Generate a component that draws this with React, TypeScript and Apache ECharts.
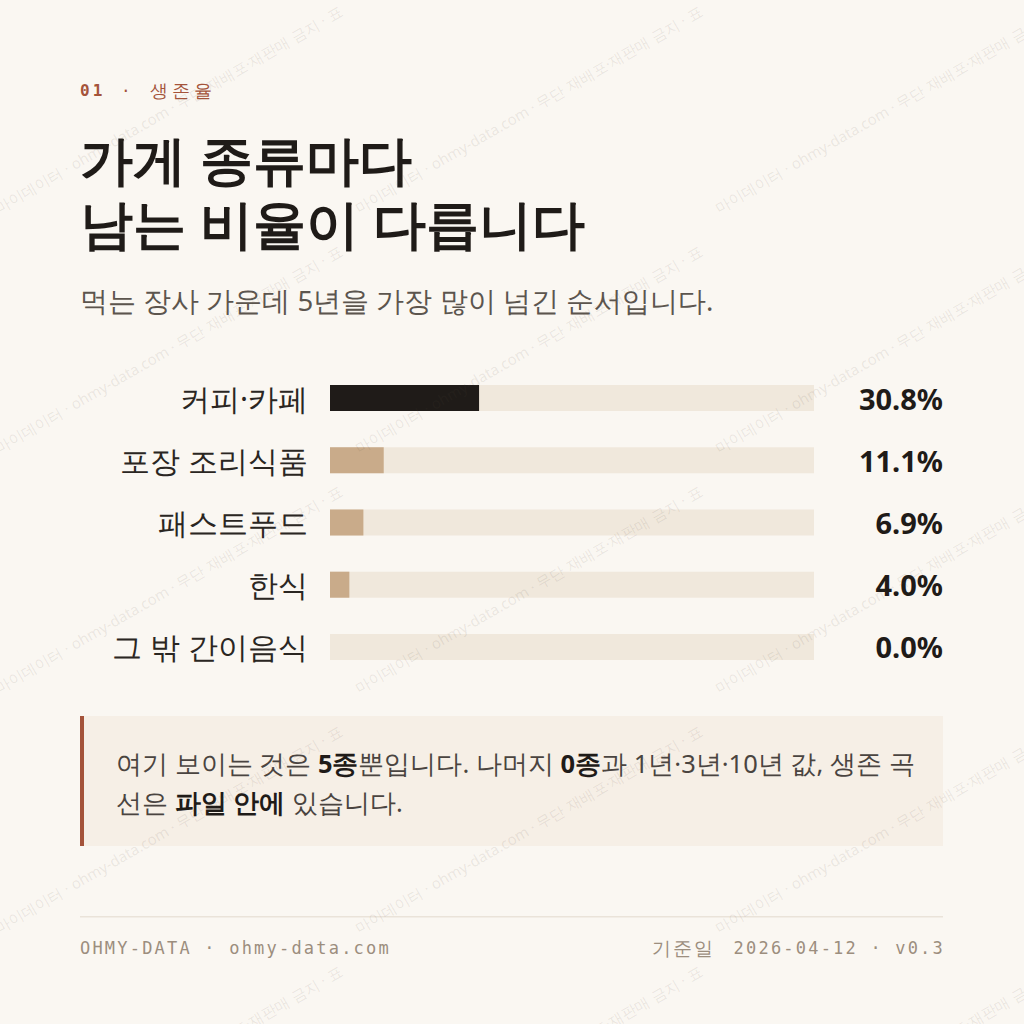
import { useEffect, useRef } from "react";
import * as echarts from "echarts";

const categories = ["커피·카페", "포장 조리식품", "패스트푸드", "한식", "그 밖 간이음식"];
const survival5y = [30.8, 11.1, 6.9, 4.0, 0.0];
const valueLabels = survival5y.map((v) => v.toFixed(1) + "%");

const kicker = ["01", "·", "생존율"];
const titleLines = ["가게 종류마다", "남는 비율이 다릅니다"];
const subtitle = "먹는 장사 가운데 5년을 가장 많이 넘긴 순서입니다.";
// [text, bold]
const noteLine1: [string, boolean][] = [
  ["여기 보이는 것은 ", false],
  ["5종", true],
  ["뿐입니다. 나머지 ", false],
  ["0종", true],
  ["과 1년·3년·10년 값, 생존 곡", false],
];
const noteLine2: [string, boolean][] = [
  ["선은 ", false],
  ["파일 안에", true],
  [" 있습니다.", false],
];
const footerLeft = "OHMY-DATA · ohmy-data.com";
const footerDateLabel = "기준일";
const footerDate = "2026-04-12 · v0.3";
const watermark = "마이데이터 · ohmy-data.com · 무단 재배포·재판매 금지 · 표";

const BG = "#FAF7F2";
const INK = "#1F1B18";
const RUST = "#A4533A";
const TAN = "#C9AB8A";
const TRACK = "#F0E8DC";
const FOOT = "#9C8E7E";
const SANS = "'Noto Sans', sans-serif";
const mono = (ls: number) =>
  `'DejaVu Sans Mono', monospace;letter-spacing:${ls}px`;
const spaced = (ls: number) => `'Noto Sans', sans-serif;letter-spacing:${ls}px`;

function richLine(parts: [string, boolean][]) {
  return parts.map(([t, b]) => `{${b ? "b" : "r"}|${t}}`).join("");
}

export default function App() {
  const chartRef = useRef<HTMLDivElement>(null);

  useEffect(() => {
    if (!chartRef.current) return;
    document.body.style.margin = "0";
    document.body.style.background = BG;
    const chart = echarts.init(chartRef.current, null, { renderer: "svg" });

    const marks: any[] = [];
    for (let row = 0; row < 5; row++) {
      for (let col = 0; col < 3; col++) {
        marks.push({
          type: "text",
          x: col * 360,
          y: 215 + row * 240,
          rotation: Math.PI / 6,
          z: 100,
          silent: true,
          style: {
            text: watermark,
            fontSize: 15,
            fontFamily: SANS,
            fill: "rgba(90,78,66,0.11)",
            align: "left",
            verticalAlign: "bottom",
          },
        });
      }
    }

    const option: echarts.EChartsOption = {
      animation: false,
      backgroundColor: BG,
      grid: { left: 330, right: 210, top: 367, height: 311 },
      xAxis: { type: "value", min: 0, max: 100, show: false },
      yAxis: [
        {
          type: "category",
          data: categories,
          inverse: true,
          axisLine: { show: false },
          axisTick: { show: false },
          splitLine: { show: false },
          axisLabel: {
            fontSize: 30,
            fontFamily: SANS,
            color: "#2A2622",
            margin: 22,
          },
        },
        {
          type: "category",
          data: valueLabels,
          inverse: true,
          position: "right",
          axisLine: { show: false },
          axisTick: { show: false },
          splitLine: { show: false },
          axisLabel: {
            fontSize: 29,
            fontWeight: "bold",
            fontFamily: SANS,
            color: INK,
            align: "right",
            margin: 129,
          },
        },
      ],
      series: [
        {
          type: "bar",
          barWidth: 26,
          silent: true,
          showBackground: true,
          backgroundStyle: { color: TRACK },
          data: survival5y.map((v, i) => ({
            value: v,
            itemStyle: { color: i === 0 ? INK : TAN },
          })),
        },
      ],
      graphic: [
        {
          type: "text",
          x: 80,
          y: 90,
          style: {
            text: kicker[0],
            fontSize: 16,
            fontWeight: "bold",
            fontFamily: mono(3),
            fill: RUST,
            verticalAlign: "middle",
          },
        },
        {
          type: "text",
          x: 121,
          y: 90,
          style: {
            text: kicker[1],
            fontSize: 16,
            fontFamily: mono(0),
            fill: RUST,
            verticalAlign: "middle",
          },
        },
        {
          type: "text",
          x: 150,
          y: 90,
          style: {
            text: kicker[2],
            fontSize: 18,
            fontFamily: spaced(4),
            fill: RUST,
            verticalAlign: "middle",
          },
        },
        {
          type: "text",
          x: 80,
          y: 126,
          style: {
            text: titleLines.join("\n"),
            fontSize: 53,
            fontWeight: "bold",
            fontFamily: SANS,
            lineHeight: 64,
            fill: INK,
            verticalAlign: "top",
          },
        },
        {
          type: "text",
          x: 80,
          y: 300,
          style: {
            text: subtitle,
            fontSize: 27.6,
            fontFamily: SANS,
            fill: "#5C554E",
            verticalAlign: "middle",
          },
        },
        {
          type: "rect",
          shape: { x: 80, y: 716, width: 863, height: 130 },
          style: { fill: "#F6EFE6" },
        },
        {
          type: "rect",
          shape: { x: 80, y: 716, width: 4, height: 130 },
          style: { fill: RUST },
        },
        {
          type: "text",
          x: 116,
          y: 743,
          style: {
            text: richLine(noteLine1) + "\n" + richLine(noteLine2),
            verticalAlign: "top",
            rich: {
              r: { fontSize: 25.5, fontFamily: SANS, fill: "#4A4440", lineHeight: 39 },
              b: { fontSize: 25.5, fontWeight: "bold", fontFamily: SANS, fill: INK, lineHeight: 39 },
            },
          },
        },
        {
          type: "rect",
          shape: { x: 80, y: 916, width: 863, height: 1.5 },
          style: { fill: "#EAE3D9" },
        },
        {
          type: "text",
          x: 80,
          y: 948,
          style: {
            text: footerLeft,
            fontSize: 17,
            fontFamily: mono(2.2),
            fill: FOOT,
            verticalAlign: "middle",
          },
        },
        {
          type: "text",
          x: 652,
          y: 948,
          style: {
            text: footerDateLabel,
            fontSize: 19,
            fontFamily: spaced(2),
            fill: FOOT,
            verticalAlign: "middle",
          },
        },
        {
          type: "text",
          x: 945,
          y: 948,
          style: {
            text: footerDate,
            fontSize: 17,
            fontFamily: mono(2.2),
            fill: FOOT,
            align: "right",
            verticalAlign: "middle",
          },
        },
        ...marks,
      ],
    };

    chart.setOption(option);
    return () => chart.dispose();
  }, []);

  return (
    <div
      ref={chartRef}
      style={{ position: "absolute", left: 0, top: 0, width: 1024, height: 1024 }}
    />
  );
}
